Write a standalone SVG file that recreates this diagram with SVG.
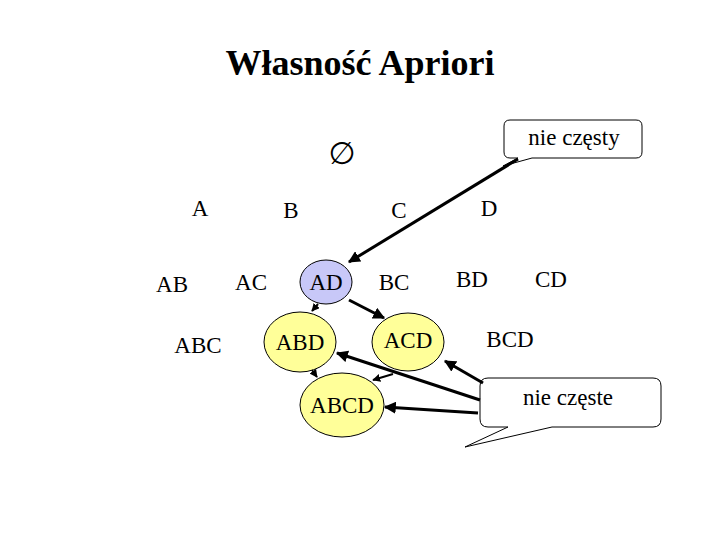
<svg xmlns="http://www.w3.org/2000/svg" width="720" height="540" viewBox="0 0 720 540">
<style>
text{font-family:"Liberation Serif","Times New Roman",serif;font-size:23px;fill:#000;text-anchor:middle}
.title{font-size:36px;font-weight:bold}
.yel{fill:#ffff99;stroke:#000;stroke-width:1}
.blu{fill:#c8c8f8;stroke:#000;stroke-width:1}
.call{fill:#fff;stroke:#000;stroke-width:1}
.arr{stroke:#000;stroke-width:3;fill:none;marker-end:url(#ah)}
.arrs{stroke:#000;stroke-width:2;fill:none;marker-end:url(#ahs)}
</style>
<defs>
<marker id="ah" viewBox="0 0 10 10" refX="9" refY="5" markerWidth="4" markerHeight="4" orient="auto" markerUnits="strokeWidth">
<path d="M0,0 L10,5 L0,10 z" fill="#000"/>
</marker>
<marker id="ahs" viewBox="0 0 10 10" refX="9" refY="5" markerWidth="4" markerHeight="4" orient="auto" markerUnits="strokeWidth">
<path d="M0,0 L10,5 L0,10 z" fill="#000"/>
</marker>
</defs>
<rect width="720" height="540" fill="#fff"/>
<text class="title" x="360" y="75">Własność Apriori</text>
<g id="empty"><text x="342" y="164" style="font-family:'DejaVu Sans',sans-serif;font-size:31px">∅</text></g>
<g id="A"><text x="200" y="216">A</text></g>
<g id="B"><text x="291" y="218">B</text></g>
<g id="C"><text x="399" y="218">C</text></g>
<g id="D"><text x="489" y="216">D</text></g>
<g id="AB"><text x="172" y="292">AB</text></g>
<g id="AC"><text x="251" y="290">AC</text></g>
<g id="AD"><ellipse class="blu" cx="326" cy="282" rx="26" ry="22"/><text x="326" y="290">AD</text></g>
<g id="BC"><text x="394" y="290">BC</text></g>
<g id="BD"><text x="472" y="287">BD</text></g>
<g id="CD"><text x="551" y="287">CD</text></g>
<g id="ABC"><text x="198" y="353">ABC</text></g>
<g id="ABD"><ellipse class="yel" cx="300" cy="342" rx="36" ry="30"/><text x="300" y="350">ABD</text></g>
<g id="ACD"><ellipse class="yel" cx="408" cy="342" rx="36" ry="29"/><text x="408" y="348">ACD</text></g>
<g id="BCD"><text x="510" y="347">BCD</text></g>
<g id="ABCD"><ellipse class="yel" cx="342" cy="405" rx="42" ry="32"/><text x="342" y="413">ABCD</text></g>
<g id="callout1">
<path class="call" d="M510,120 H636 Q642,120 642,126 V152 Q642,158 636,158 H532 L503,166 L518,158 H510 Q504,158 504,152 V126 Q504,120 510,120 Z"/>
<text x="574" y="145">nie częsty</text>
</g>
<g id="callout2">
<path class="call" d="M488,378 H653 Q661,378 661,386 V419 Q661,427 653,427 H552 L465,447 L508,427 H488 Q480,427 480,419 V386 Q480,378 488,378 Z"/>
<text x="568" y="405">nie częste</text>
</g>
<g id="connectors">
<line class="arr" x1="518" y1="159" x2="349" y2="262"/>
<line class="arrs" x1="318" y1="304" x2="312" y2="311"/>
<line class="arr" x1="349" y1="300" x2="384" y2="318"/>
<line class="arrs" x1="312" y1="370" x2="317" y2="377"/>
<line class="arrs" x1="393" y1="374" x2="373" y2="380"/>
<line class="arr" x1="483" y1="383" x2="445" y2="361"/>
<line class="arr" x1="480" y1="400" x2="337" y2="353"/>
<line class="arr" x1="478" y1="413" x2="385" y2="407"/>
</g>
</svg>
